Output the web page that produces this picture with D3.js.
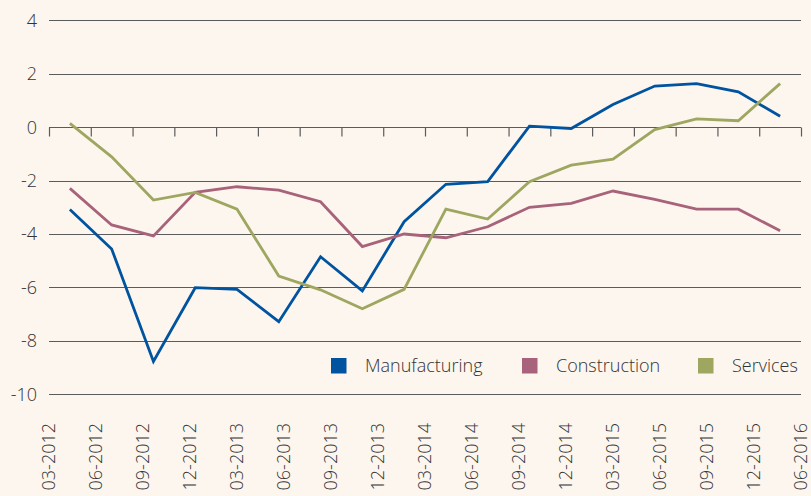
<!DOCTYPE html>
<html>
<head>
<meta charset="utf-8">
<script src="https://cdn.jsdelivr.net/npm/d3@7"></script>
<style>
  html, body { margin: 0; padding: 0; background: #fcf6ef; }
  svg { display: block; }
  text { font-family: "Open Sans", "Noto Sans", sans-serif; font-weight: 300; fill: #333333; }
</style>
</head>
<body>
<svg id="chart" width="811" height="496"></svg>
<script>
// Quarterly balance indicators by sector, 2012–2016
const quarters = ["Q1-2012","Q2-2012","Q3-2012","Q4-2012","Q1-2013","Q2-2013","Q3-2013","Q4-2013",
  "Q1-2014","Q2-2014","Q3-2014","Q4-2014","Q1-2015","Q2-2015","Q3-2015","Q4-2015","Q1-2016","Q2-2016"];
const tickLabels = ["03-2012","06-2012","09-2012","12-2012","03-2013","06-2013","09-2013","12-2013",
  "03-2014","06-2014","09-2014","12-2014","03-2015","06-2015","09-2015","12-2015","06-2016"];
const yTicks = [4, 2, 0, -2, -4, -6, -8, -10];

const manufacturing = [-3.08,-4.56,-8.77,-6.01,-6.07,-7.28,-4.85,-6.13,-3.54,-2.14,-2.04,0.04,-0.05,0.85,1.54,1.63,1.32,0.41];
const construction  = [-2.29,-3.66,-4.07,-2.44,-2.23,-2.36,-2.79,-4.47,-4.00,-4.14,-3.73,-3.00,-2.85,-2.39,-2.70,-3.07,-3.07,-3.88];
const services      = [0.14,-1.11,-2.73,-2.44,-3.07,-5.57,-6.09,-6.80,-6.07,-3.07,-3.44,-2.04,-1.42,-1.20,-0.09,0.31,0.24,1.63];

const seriesNames = ["Manufacturing", "Construction", "Services"];
const seriesColors = ["#00539f", "#a8627a", "#9ea660"];
const seriesValues = [manufacturing, construction, services];

const svg = d3.select("#chart");
const plotLeft = 49, plotRight = 801, plotTop = 20.3, plotBottom = 394.3;

const x = d3.scaleBand().domain(quarters).range([plotLeft, plotRight]).paddingInner(0).paddingOuter(0);
const xEdge = d3.scaleLinear().domain([0, quarters.length]).range([plotLeft, plotRight]);
const xLab = d3.scalePoint().domain(tickLabels).range([plotLeft - 0.5, plotRight - 0.5]);
const y = d3.scaleLinear().domain([-10, 4]).range([plotBottom, plotTop]);

// horizontal gridlines
svg.append("g")
  .selectAll("line")
  .data(yTicks)
  .join("line")
  .attr("x1", plotLeft).attr("x2", plotRight)
  .attr("y1", d => Math.round(y(d)) + 0.5).attr("y2", d => Math.round(y(d)) + 0.5)
  .attr("stroke", "#5b5b5b").attr("stroke-width", 1.2);

// y axis labels
svg.append("g")
  .selectAll("text")
  .data(yTicks)
  .join("text")
  .attr("x", 37).attr("y", d => y(d))
  .attr("dy", "0.36em")
  .attr("text-anchor", "end")
  .style("font-size", "18px")
  .text(d => d);

// tick marks on the zero line at quarter boundaries
const tickAxis = d3.axisBottom(xEdge).tickValues(d3.range(quarters.length + 1)).tickFormat("").tickSize(9).tickSizeOuter(0);
const tg = svg.append("g").attr("transform", `translate(0,${Math.round(y(0)) + 0.5})`).call(tickAxis);
tg.select(".domain").remove();
tg.selectAll(".tick line").attr("stroke", "#5b5b5b").attr("stroke-width", 1.2);

// date labels below the plot
const lg = svg.append("g");
lg.selectAll("text")
  .data(tickLabels)
  .join("text")
  .attr("transform", d => `translate(${xLab(d)},423) rotate(-90)`)
  .attr("dy", "0.36em")
  .attr("text-anchor", "end")
  .style("font-size", "18px")
  .text(d => d);

// series lines
const line = d3.line()
  .x((d, i) => x(quarters[i]) + x.bandwidth() / 2)
  .y(d => y(d));

seriesValues.forEach((vals, k) => {
  svg.append("path")
    .datum(vals)
    .attr("fill", "none")
    .attr("stroke", seriesColors[k])
    .attr("stroke-width", 2.8)
    .attr("stroke-linejoin", "miter")
    .attr("d", line);
});

// legend
const legendX = [331, 522, 698];
const legend = svg.append("g");
seriesNames.forEach((name, k) => {
  legend.append("rect")
    .attr("x", legendX[k]).attr("y", 358)
    .attr("width", 15.5).attr("height", 15.5)
    .attr("fill", seriesColors[k]);
  legend.append("text")
    .attr("x", legendX[k] + 34).attr("y", 366)
    .attr("dy", "0.36em")
    .style("font-size", "18px")
    .text(name);
});
</script>
</body>
</html>
